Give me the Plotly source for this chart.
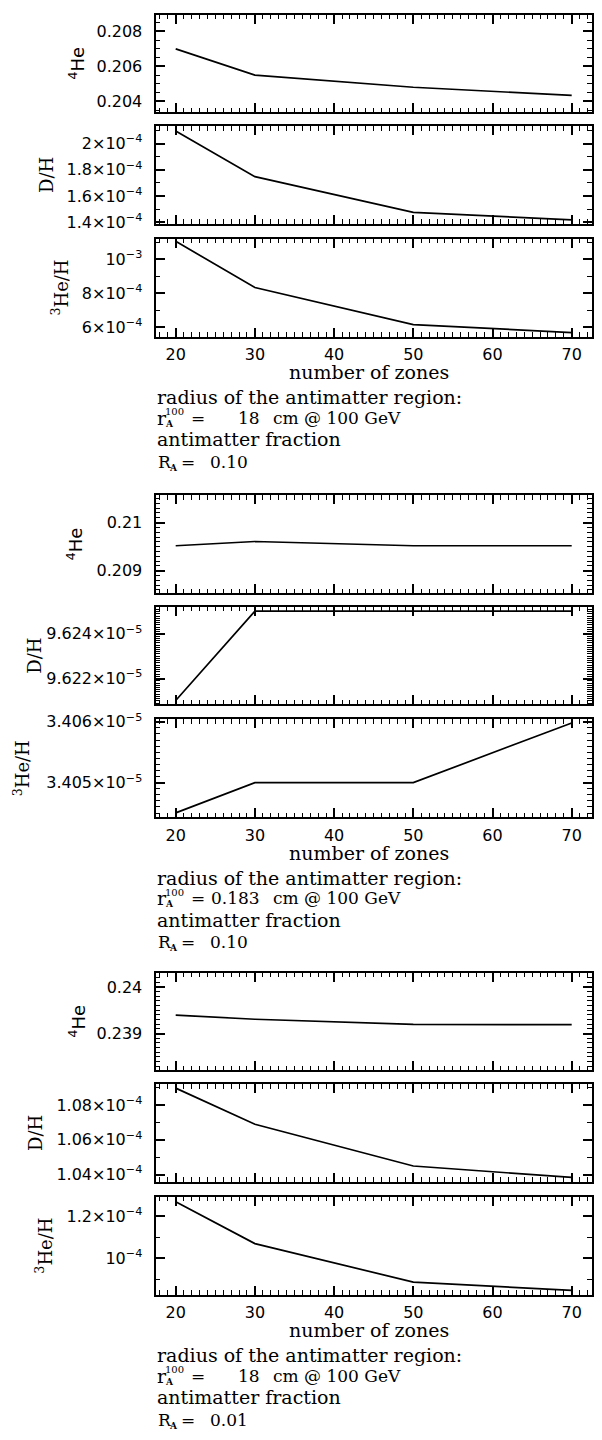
import numpy as np
import plotly.graph_objects as go

W, H = 602, 1440

# ---- data -------------------------------------------------------------
zones = [20, 30, 50, 70]
x_ticks = [20, 30, 40, 50, 60, 70]
x_ticktext = ["20", "30", "40", "50", "60", "70"]

# run 1: r_A = 18 cm, R_A = 0.10
he4_a = [0.20700, 0.20550, 0.20481, 0.20434]
dh_a = [2.095e-4, 1.748e-4, 1.477e-4, 1.420e-4]
he3_a = [1.107e-3, 8.33e-4, 6.14e-4, 5.67e-4]

# run 2: r_A = 0.183 cm, R_A = 0.10
he4_b = [0.209518, 0.209607, 0.209518, 0.209518]
dh_b = [9.62102e-5, 9.62502e-5, 9.62502e-5, 9.62502e-5]
he3_b = [3.404504e-5, 3.405000e-5, 3.405000e-5, 3.405980e-5]

# run 3: r_A = 18 cm, R_A = 0.01
he4_c = [0.239395, 0.239307, 0.239197, 0.239190]
dh_c = [1.0898e-4, 1.0690e-4, 1.0449e-4, 1.0383e-4]
he3_c = [1.2690e-4, 1.0704e-4, 0.8873e-4, 0.8479e-4]

# y tick values / labels per panel
he4_a_ticks, he4_a_text = [0.204, 0.206, 0.208], ["0.204", "0.206", "0.208"]
dh_a_ticks = [1.4e-4, 1.6e-4, 1.8e-4, 2.0e-4]
dh_a_text = ["1.4×10<sup>−4</sup>", "1.6×10<sup>−4</sup>", "1.8×10<sup>−4</sup>", "2×10<sup>−4</sup>"]
he3_a_ticks = [6e-4, 8e-4, 1e-3]
he3_a_text = ["6×10<sup>−4</sup>", "8×10<sup>−4</sup>", "10<sup>−3</sup>"]

he4_b_ticks, he4_b_text = [0.209, 0.210], ["0.209", "0.21"]
dh_b_ticks = [9.622e-5, 9.624e-5]
dh_b_text = ["9.622×10<sup>−5</sup>", "9.624×10<sup>−5</sup>"]
he3_b_ticks = [3.405e-5, 3.406e-5]
he3_b_text = ["3.405×10<sup>−5</sup>", "3.406×10<sup>−5</sup>"]

he4_c_ticks, he4_c_text = [0.239, 0.240], ["0.239", "0.24"]
dh_c_ticks = [1.04e-4, 1.06e-4, 1.08e-4]
dh_c_text = ["1.04×10<sup>−4</sup>", "1.06×10<sup>−4</sup>", "1.08×10<sup>−4</sup>"]
he3_c_ticks = [1.0e-4, 1.2e-4]
he3_c_text = ["10<sup>−4</sup>", "1.2×10<sup>−4</sup>"]

radius_values = ["18", "0.183", "18"]
fraction_values = ["0.10", "0.10", "0.01"]

# ---- layout helpers --------------------------------------------------
X0, X1 = 155.5, 591.5
XRANGE = [17.45, 72.5]
group_top = [0.0, 486.5, 969.5]
panel_rel = [(5.7, 104.5), (118.5, 217.3), (232.3, 331.5)]

SANS = "DejaVu Sans"
SERIF = "DejaVu Serif"


def fx(px):
    return px / W


def fy(px):
    return 1 - px / H


def minor_vals(lo, hi, step):
    k0 = int(np.ceil(lo / step - 1e-6))
    k1 = int(np.floor(hi / step + 1e-6))
    return [k * step for k in range(k0, k1 + 1)]


panels = [
    # (series, ticks, ticktext, yrange, minor step, ylabel, label x, label font)
    (he4_a, he4_a_ticks, he4_a_text, [0.20338, 0.20896], 0.0005, "<sup>4</sup>He", 77, SANS),
    (dh_a, dh_a_ticks, dh_a_text, [1.390e-4, 2.1326e-4], 1e-5, "D/H", 47, SERIF),
    (he3_a, he3_a_ticks, he3_a_text, [5.43e-4, 1.123e-3], 1e-4, "<sup>3</sup>He/H", 60, SERIF),
    (he4_b, he4_b_ticks, he4_b_text, [0.208536, 0.210565], 1e-4, "<sup>4</sup>He", 75, SANS),
    (dh_b, dh_b_ticks, dh_b_text, [9.62084e-5, 9.62521e-5], 1e-9, "D/H", 35, SERIF),
    (he3_b, he3_b_ticks, he3_b_text, [3.40443e-5, 3.40604e-5], 1e-9, "<sup>3</sup>He/H", 22, SERIF),
    (he4_c, he4_c_ticks, he4_c_text, [0.23821, 0.240307], 1e-4, "<sup>4</sup>He", 77, SANS),
    (dh_c, dh_c_ticks, dh_c_text, [1.0358e-4, 1.0921e-4], 1e-6, "D/H", 36, SERIF),
    (he3_c, he3_c_ticks, he3_c_text, [0.8277e-4, 1.2939e-4], 1e-5, "<sup>3</sup>He/H", 44, SERIF),
]

fig = go.Figure()
layout = {}
annotations = []

for i, (vals, tv, tt, yr, mstep, ylab, labx, labfont) in enumerate(panels):
    g, p = divmod(i, 3)
    n = i + 1
    sfx = "" if n == 1 else str(n)
    top = group_top[g] + panel_rel[p][0]
    bot = group_top[g] + panel_rel[p][1]

    fig.add_trace(go.Scatter(
        x=zones, y=vals, mode="lines",
        line=dict(color="black", width=1.7),
        xaxis="x" + sfx, yaxis="y" + sfx, showlegend=False,
        hoverinfo="skip",
    ))

    layout["xaxis" + sfx] = dict(
        domain=[fx(X0), fx(X1)], anchor="y" + sfx, range=XRANGE,
        tickmode="array", tickvals=x_ticks, ticktext=x_ticktext,
        showticklabels=(p == 2), ticks="inside", ticklen=9, tickwidth=1.5,
        tickcolor="black", showline=True, linecolor="black", linewidth=2,
        mirror="allticks", showgrid=False, zeroline=False,
        tickfont=dict(family=SANS, size=16, color="black"),
        ticklabelstandoff=2,
        minor=dict(tickmode="array", tickvals=list(range(18, 73)),
                   ticks="inside", ticklen=4.5, tickwidth=1.2,
                   tickcolor="black", showgrid=False),
    )
    layout["yaxis" + sfx] = dict(
        domain=[fy(bot), fy(top)], anchor="x" + sfx, range=yr,
        tickmode="array", tickvals=tv, ticktext=tt,
        ticks="inside", ticklen=9, tickwidth=1.5, tickcolor="black",
        showline=True, linecolor="black", linewidth=2, mirror="allticks",
        showgrid=False, zeroline=False, exponentformat="none",
        tickfont=dict(family=SANS, size=16, color="black"),
        ticklabelstandoff=8,
        minor=dict(tickmode="array", tickvals=minor_vals(yr[0], yr[1], mstep),
                   ticks="inside", ticklen=4.5, tickwidth=1.2,
                   tickcolor="black", showgrid=False),
    )

    annotations.append(dict(
        text=ylab, x=fx(labx), y=fy((top + bot) / 2), xref="paper", yref="paper",
        xanchor="center", yanchor="middle", textangle=-90, showarrow=False,
        font=dict(family=labfont, size=18, color="black"),
    ))


def label(text, xpx, ypx, size=17, anchor="left", family=SERIF):
    annotations.append(dict(
        text=text, x=fx(xpx), y=fy(ypx), xref="paper", yref="paper",
        xanchor=anchor, yanchor="middle", showarrow=False,
        font=dict(family=family, size=size, color="black"),
    ))


WORD = 19
for g in range(3):
    g0 = group_top[g]
    label("number of zones", 369, g0 + 367.5, size=WORD, anchor="center")
    label("radius of the antimatter region:", 155, g0 + 393, size=WORD)
    # r_A^100 = <value>  cm @ 100 GeV
    yl = g0 + 413.5
    label("r", 155, yl, size=WORD)
    label("100", 163, yl - 6, size=10)
    label("<b>A</b>", 163.5, yl + 6, size=9)
    label("=", 189, yl)
    label(radius_values[g], 262, yl, anchor="right")
    label("cm @ 100 GeV", 271, yl)
    label("antimatter fraction", 155, g0 + 435.5, size=WORD)
    # R_A = <value>
    yr_ = g0 + 458
    label("R", 155.5, yr_)
    label("<b>A</b>", 166.5, yr_ + 6, size=9)
    label("=", 179, yr_)
    label(fraction_values[g], 208, yr_)

fig.update_layout(
    width=W, height=H, autosize=False,
    margin=dict(l=0, r=0, t=0, b=0),
    paper_bgcolor="white", plot_bgcolor="white",
    annotations=annotations,
    **layout,
)

fig.write_html("out.html")
